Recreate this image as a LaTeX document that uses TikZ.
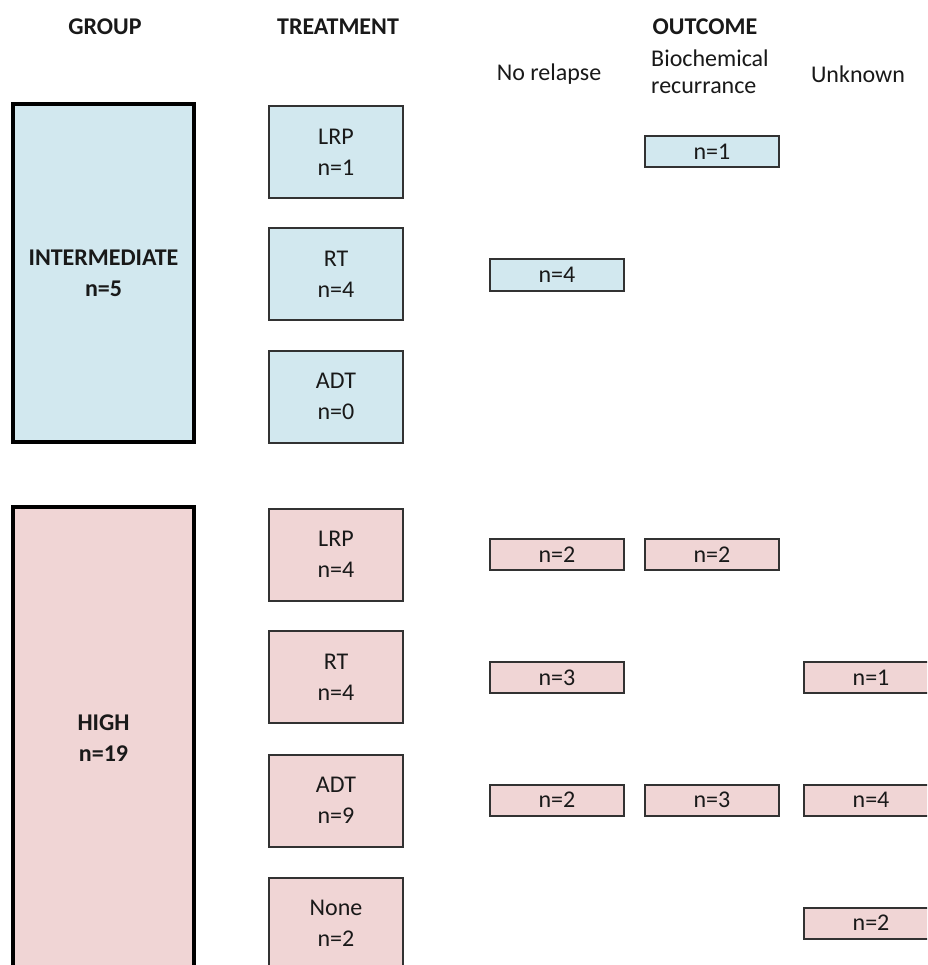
\documentclass[tikz,border=0pt]{standalone}
\usepackage{fontspec}
\setmainfont{Carlito}
\definecolor{blueF}{RGB}{210,232,239}
\definecolor{pinkF}{RGB}{240,213,213}
\definecolor{txt}{RGB}{25,25,25}
\definecolor{edge}{RGB}{50,50,50}
\begin{document}
\begin{tikzpicture}[x=1pt,y=-1pt,
  every node/.style={font=\fontsize{24}{31}\selectfont, text=txt, align=center, inner sep=0pt},
  hdr/.style={font=\fontsize{24}{31}\selectfont\bfseries},
  grpbox/.style={draw=black, line width=3.5pt, minimum width=181pt, font=\fontsize{24}{31}\selectfont\bfseries},
  trbox/.style={draw=edge, line width=2pt, minimum width=134pt, minimum height=92pt},
  outbox/.style={draw=edge, line width=2pt, minimum width=134pt, minimum height=31pt},
  intc/.style={fill=blueF},
  highc/.style={fill=pinkF}]
\useasboundingbox (0,0) rectangle (927,965);
\clip (0,0) rectangle (927,965);
\fill[white] (0,0) rectangle (927,965);

% headers
\node[hdr] (hgroup) at (105,27) {GROUP};
\node[hdr] (htreat) at (338,27) {TREATMENT};
\node[hdr] (hout) at (705,27) {OUTCOME};
\node[anchor=west] (hbio) at (651,58) {Biochemical};
\node[anchor=west] (hrec) at (651,88) {recurrance};
\node (hno) at (549,74) {No relapse};
\node (hunk) at (858,74) {Unknown};

% groups
\node[grpbox, intc, minimum height=338pt] (gint) at (103.5,273) {INTERMEDIATE\\n=5};
\node[grpbox, highc, minimum height=463pt] (ghigh) at (103.5,738.5) {HIGH\\n=19};

% treatments (intermediate)
\node[trbox, intc] (tilrp) at (336,152) {LRP\\n=1};
\node[trbox, intc] (tirt) at (336,274) {RT\\n=4};
\node[trbox, intc] (tiadt) at (336,396.5) {ADT\\n=0};

% treatments (high)
\node[trbox, highc] (thlrp) at (336,554.5) {LRP\\n=4};
\node[trbox, highc] (thrt) at (336,677) {RT\\n=4};
\node[trbox, highc] (thadt) at (336,800.5) {ADT\\n=9};
\node[trbox, highc] (thnone) at (336,923.5) {None\\n=2};

% outcomes (intermediate)
\node[outbox, intc] (oilrpbio) at (712,151.5) {n=1};
\node[outbox, intc] (oirtno) at (557,275) {n=4};

% outcomes (high)
\node[outbox, highc] (ohlrpno) at (557,554.5) {n=2};
\node[outbox, highc] (ohlrpbio) at (712,554.5) {n=2};
\node[outbox, highc] (ohrtno) at (557,677.5) {n=3};
\node[outbox, highc] (ohrtunk) at (871,677.5) {n=1};
\node[outbox, highc] (ohadtno) at (557,800) {n=2};
\node[outbox, highc] (ohadtbio) at (712,800) {n=3};
\node[outbox, highc] (ohadtunk) at (871,800) {n=4};
\node[outbox, highc] (ohnoneunk) at (871,923) {n=2};
\end{tikzpicture}
\end{document}
